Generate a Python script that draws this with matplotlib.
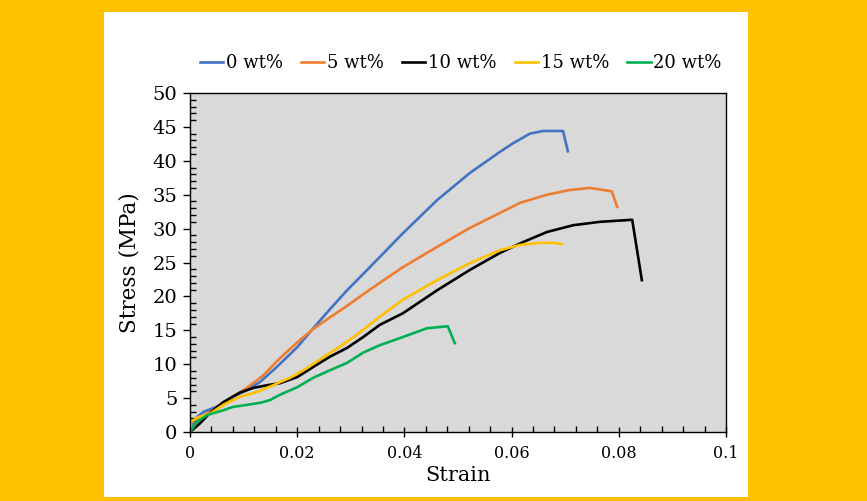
import matplotlib
matplotlib.use("Agg")
import matplotlib.pyplot as plt
from matplotlib.patches import Rectangle
from matplotlib.ticker import MultipleLocator, FuncFormatter

labels = ["0 wt%", "5 wt%", "10 wt%", "15 wt%", "20 wt%"]
colors = ["#4472C4", "#ED7D31", "#000000", "#FFC000", "#00B050"]

strain_0 = [0, 0.0002, 0.0013, 0.0026, 0.0039, 0.0058, 0.0075, 0.0106, 0.0131, 0.0162, 0.020, 0.023, 0.0261,
            0.0293, 0.0323, 0.0354, 0.0397, 0.0461, 0.0522, 0.0578, 0.0603, 0.0634, 0.0659, 0.0696, 0.0705]
stress_0 = [0, 0.7, 2.2, 3.0, 3.4, 4.0, 5.0, 6.2, 7.4, 9.6, 12.5, 15.3, 18.1,
            20.9, 23.3, 25.8, 29.3, 34.2, 38.2, 41.3, 42.6, 44.0, 44.4, 44.4, 41.4]

strain_5 = [0, 0.001, 0.0019, 0.0043, 0.0075, 0.0106, 0.0136, 0.0168, 0.020, 0.023, 0.0261, 0.0293, 0.0323,
            0.0354, 0.0397, 0.0461, 0.0522, 0.0578, 0.0616, 0.0666, 0.0709, 0.0746, 0.0787, 0.0797]
stress_5 = [0, 1.2, 2.2, 3.2, 5.0, 6.5, 8.3, 10.9, 13.2, 15.2, 16.9, 18.6, 20.3,
            22.0, 24.3, 27.3, 30.1, 32.3, 33.8, 35.0, 35.7, 36.0, 35.5, 33.2]

strain_10 = [0, 0.0019, 0.0037, 0.0062, 0.0093, 0.0118, 0.0144, 0.0168, 0.020, 0.023, 0.0261, 0.0293, 0.0323,
             0.0354, 0.0397, 0.0461, 0.0522, 0.0578, 0.0621, 0.0666, 0.0715, 0.0765, 0.0825, 0.0843]
stress_10 = [0, 1.3, 2.8, 4.4, 5.8, 6.5, 6.9, 7.2, 8.1, 9.6, 11.1, 12.4, 14.0,
             15.8, 17.5, 20.9, 23.9, 26.4, 28.0, 29.5, 30.5, 31.0, 31.3, 22.4]

strain_15 = [0, 0.0002, 0.0013, 0.0039, 0.0062, 0.0093, 0.0125, 0.0155, 0.0187, 0.0218, 0.0248, 0.028, 0.0312,
             0.0354, 0.0397, 0.0461, 0.0522, 0.0578, 0.0616, 0.0653, 0.0677, 0.0694]
stress_15 = [0, 1.5, 2.1, 2.8, 4.0, 5.2, 5.9, 6.9, 8.0, 9.4, 11.0, 12.6, 14.4,
             17.0, 19.5, 22.4, 24.9, 26.8, 27.6, 27.9, 27.9, 27.7]

strain_20 = [0, 0.0013, 0.0032, 0.0062, 0.008, 0.0106, 0.0131, 0.0149, 0.0168, 0.020, 0.023, 0.0261, 0.0293,
             0.0323, 0.0354, 0.0397, 0.0442, 0.0481, 0.0494]
stress_20 = [0, 1.5, 2.5, 3.2, 3.7, 4.0, 4.3, 4.7, 5.5, 6.6, 8.0, 9.1, 10.2,
             11.7, 12.8, 14.0, 15.3, 15.6, 13.1]

series = [(strain_0, stress_0), (strain_5, stress_5), (strain_10, stress_10),
          (strain_15, stress_15), (strain_20, stress_20)]

plt.rcParams['font.family'] = ['DejaVu Serif']

fig = plt.figure(figsize=(8.67, 5.01), dpi=100)
fig.patch.set_facecolor("#FFC000")
fig.patches.append(Rectangle((104/867, 1-497/501), (748-104)/867, (497-12)/501,
                             transform=fig.transFigure, facecolor="white", edgecolor="none", zorder=-10))

ax = fig.add_axes([190/867, 1-432/501, (726-190)/867, (432-93)/501])
ax.set_facecolor("#D9D9D9")

for (x, y), lab, c in zip(series, labels, colors):
    ax.plot(x, y, color=c, lw=1.9, label=lab, solid_joinstyle='round')

ax.set_xlim(0, 0.1)
ax.set_ylim(0, 50)
ax.xaxis.set_major_locator(MultipleLocator(0.02))
ax.xaxis.set_minor_locator(MultipleLocator(0.004))
ax.yaxis.set_major_locator(MultipleLocator(5))
ax.yaxis.set_minor_locator(MultipleLocator(1))
ax.xaxis.set_major_formatter(FuncFormatter(lambda v, p: "0" if abs(v) < 1e-12 else ("%g" % round(v, 3))))

for s in ax.spines.values():
    s.set_color("black")
    s.set_linewidth(1.0)

ax.tick_params(axis='x', which='major', direction='inout', length=7, width=1, labelsize=11.5, pad=6)
ax.tick_params(axis='x', which='minor', direction='in', length=4, width=1)
ax.tick_params(axis='y', which='major', direction='out', length=5, width=1, labelsize=14, pad=4)
ax.tick_params(axis='y', which='minor', direction='in', length=4, width=1)

ax.set_xlabel("Strain", fontsize=15, labelpad=3)
ax.set_ylabel("Stress (MPa)", fontsize=15.5, labelpad=9)

leg = ax.legend(loc='lower center', bbox_to_anchor=(0.505, 1.04), ncol=5, frameon=False,
                fontsize=13, handlelength=1.3, handletextpad=0.15, columnspacing=1.0,
                borderaxespad=0)

fig.savefig("out.png", dpi=100, facecolor=fig.get_facecolor())
